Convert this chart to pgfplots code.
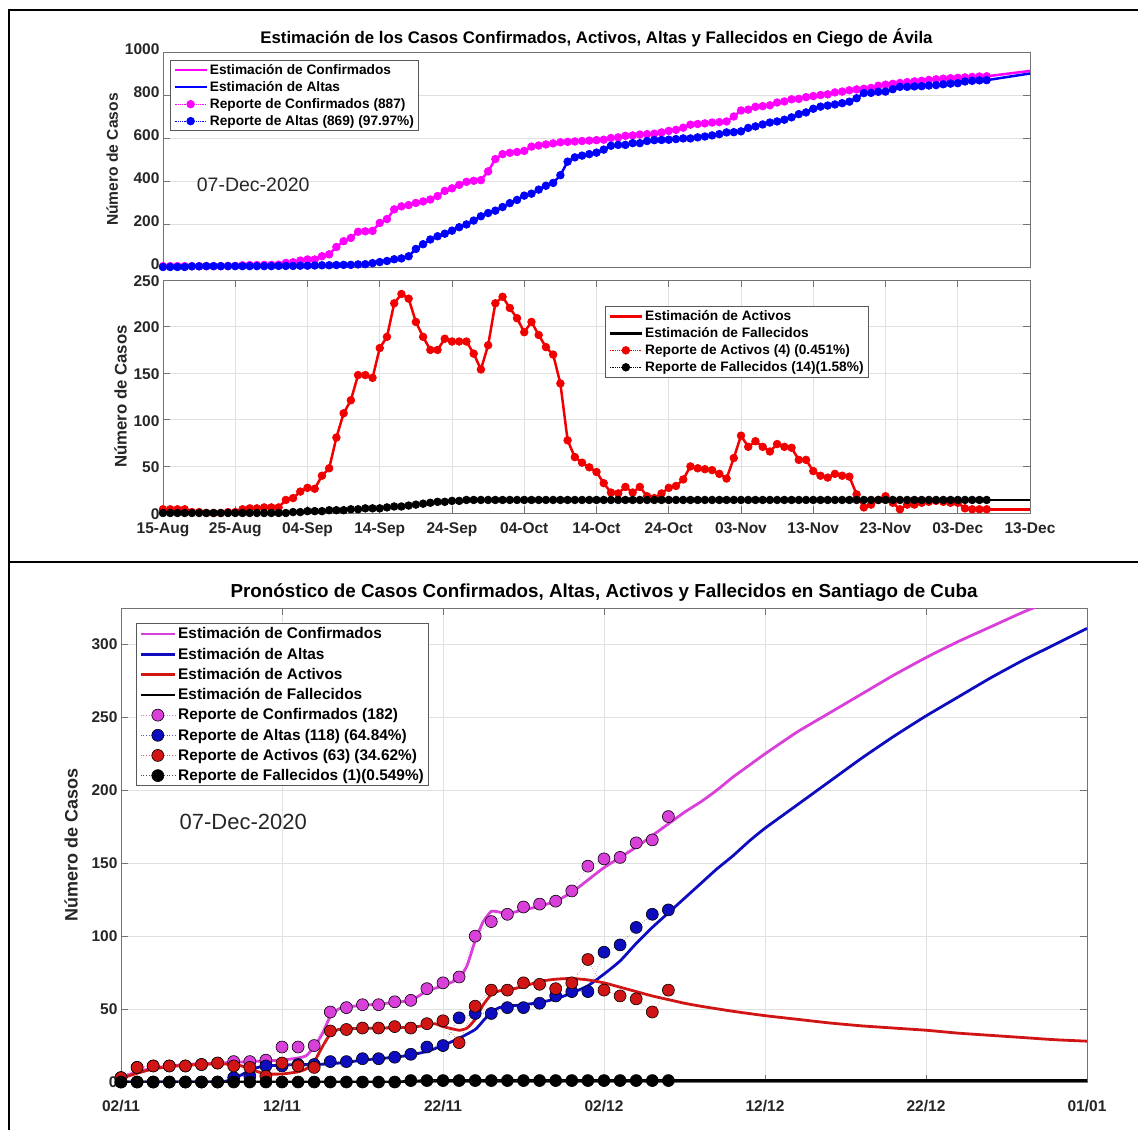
\documentclass[border=0pt]{standalone}
\usepackage{fontspec}
\setmainfont{Liberation Sans}
\usepackage{pgfplots}
\usepackage{pgfplotstable}
\pgfplotsset{compat=1.18}

\definecolor{mmag}{rgb}{1,0,1}
\definecolor{mblue}{rgb}{0,0,1}
\definecolor{mred}{rgb}{0.95,0,0}
\definecolor{bmag}{rgb}{0.85,0.25,0.85}
\definecolor{bblue}{rgb}{0.05,0.05,0.75}
\definecolor{bred}{rgb}{0.82,0.08,0.08}
\definecolor{gridc}{gray}{0.88}
\definecolor{axc}{gray}{0.45}
\definecolor{tickc}{gray}{0.15}

\pgfplotstableread{
d C A R D
0 4 0 4 0
1 4 0 4 0
2 4 0 4 0
3 4 0 4 0
4 4 3 1 0
5 4 3 1 0
6 4 4 0 0
7 4 4 0 0
8 4 4 0 0
9 5 4 1 0
10 5 4 1 0
11 8 4 4 0
12 9 4 5 0
13 9 4 5 0
14 10 4 6 0
15 10 4 6 0
16 11 5 6 0
17 19 5 14 0
18 22 5 16 1
19 30 6 23 1
20 35 6 27 2
21 35 7 26 2
22 50 8 40 2
23 59 8 48 3
24 93 9 81 3
25 120 10 107 3
26 135 10 121 4
27 164 12 148 4
28 166 13 148 5
29 168 18 145 5
30 205 23 177 5
31 223 28 189 6
32 268 36 225 7
33 282 40 235 7
34 288 50 230 8
35 298 84 205 9
36 305 106 189 10
37 314 128 175 11
38 330 143 175 12
39 354 155 187 12
40 366 169 184 13
41 382 185 184 13
42 396 198 184 14
43 401 216 171 14
44 404 236 154 14
45 445 251 180 14
46 502 262 225 14
47 525 279 232 14
48 531 297 220 14
49 535 312 209 14
50 540 332 194 14
51 560 341 205 14
52 565 360 191 14
53 570 378 178 14
54 575 391 170 14
55 580 427 139 14
56 582 490 78 14
57 584 510 60 14
58 586 518 54 14
59 588 525 49 14
60 590 532 44 14
61 592 546 32 14
62 600 564 22 14
63 603 568 21 14
64 610 568 28 14
65 612 576 22 14
66 616 576 28 14
67 618 586 18 14
68 620 590 16 14
69 626 591 21 14
70 633 592 27 14
71 638 595 29 14
72 648 598 36 14
73 662 598 50 14
74 665 603 48 14
75 668 607 47 14
76 672 612 46 14
77 674 618 42 14
78 677 626 37 14
79 700 627 59 14
80 728 631 83 14
81 732 647 71 14
82 745 654 77 14
83 748 663 71 14
84 752 672 66 14
85 765 677 74 14
86 770 685 71 14
87 780 696 70 14
88 782 711 57 14
89 790 719 57 14
90 795 736 45 14
91 800 746 40 14
92 803 751 38 14
93 812 756 42 14
94 816 762 40 14
95 822 769 39 14
96 826 785 20 14
97 829 809 6 14
98 833 810 9 14
99 843 815 14 14
100 848 816 18 14
101 852 827 11 14
102 856 838 4 14
103 860 838 9 14
104 863 840 9 14
105 866 841 11 14
106 870 844 12 14
107 873 846 13 14
108 876 850 12 14
109 878 853 11 14
110 880 855 11 14
111 882 863 5 14
112 884 866 4 14
113 886 868 4 14
114 887 869 4 14
}\ca

\pgfplotstableread{
d C A R D
0 3 0 3 0
1 10 0 10 0
2 11 0 11 0
3 11 0 11 0
4 11 0 11 0
5 12 0 12 0
6 13 0 13 0
7 14 3 11 0
8 14 4 10 0
9 15 11 4 0
10 24 11 13 0
11 24 12 11 0
12 25 12 10 0
13 48 14 35 0
14 51 14 36 0
15 53 16 37 0
16 53 16 37 0
17 55 17 38 0
18 56 19 37 1
19 64 24 40 1
20 68 25 42 1
21 72 44 27 1
22 100 47 52 1
23 110 47 63 1
24 115 51 63 1
25 120 51 68 1
26 122 54 67 1
27 124 59 64 1
28 131 62 68 1
29 148 62 84 1
30 153 89 63 1
31 154 94 59 1
32 164 106 57 1
33 166 115 48 1
34 182 118 63 1
}\sc

\pgfplotsset{
  mybase/.style={
    scale only axis,
    axis line style={axc, line width=1pt},
    tick style={axc, line width=0.8pt},
    major tick length=7pt,
    grid style={gridc, line width=0.8pt},
    tick label style={font=\bfseries\fontsize{15.5}{17}\selectfont, text=tickc},
    /pgf/number format/assume math mode=true,
    /pgf/number format/1000 sep={},
    label style={font=\bfseries\fontsize{15.6}{18}\selectfont, text=tickc},
    title style={font=\bfseries\fontsize{16.8}{19}\selectfont},
    legend cell align=left,
    legend style={draw=black!65, line width=0.9pt, fill=white, inner xsep=3pt, inner ysep=2pt,
      font=\bfseries\fontsize{13.7}{16}\selectfont, row sep=1.5pt},
    legend image code/.code={\draw[mark repeat=2,mark phase=2,#1] plot coordinates {(0pt,0pt)(16pt,0pt)(32pt,0pt)};},
  },
  rep/.style={densely dotted, line width=0.8pt, mark=*, mark size=3.8pt, mark options={solid, fill=#1, draw=#1}, #1},
  brep/.style={dotted, line width=0.6pt, mark=*, mark size=6pt, mark options={solid, fill=#1, draw=black, line width=0.6pt}, #1!70},
}

\begin{document}
\begin{tikzpicture}[x=1pt,y=1pt]
\useasboundingbox (0,0) rectangle (1138,-1130);
% frame lines
\draw[line width=1.3pt] (9,-1130) -- (9,-10) -- (1138,-10);
\draw[line width=2.6pt] (9,-10) -- (100,-10);
\draw[line width=2.6pt] (1061,-10) -- (1138,-10);
\draw[line width=1.3pt] (9,-562) -- (1138,-562);
\draw[line width=2.6pt] (9,-562) -- (53,-562);
\draw[line width=2.6pt] (1107,-562) -- (1138,-562);

% ---------------- top panel
\begin{axis}[mybase, at={(163pt,-267pt)}, anchor=south west,
  width=867pt, height=215pt,
  xmin=0, xmax=120, ymin=0, ymax=1000,
  ytick={0,200,...,1000}, xtick=\empty, ymajorgrids,
  yticklabel style={yshift=2.5pt},
  ylabel={Número de Casos},
  title={Estimación de los Casos Confirmados, Activos, Altas y Fallecidos en Ciego de Ávila},
  title style={yshift=-5pt},
  legend style={at={(0.008,0.963)}, anchor=north west}]
\addplot[mmag, line width=2.5pt] table[x=d,y=C]{\ca};
\addlegendentry{Estimación de Confirmados}
\addplot[mblue, line width=2.5pt] table[x=d,y=A]{\ca};
\addlegendentry{Estimación de Altas}
\addplot[rep=mmag] table[x=d,y=C]{\ca};
\addlegendentry{Reporte de Confirmados (887)}
\addplot[rep=mblue] table[x=d,y=A]{\ca};
\addlegendentry{Reporte de Altas (869) (97.97\%)}
\addplot[mmag, line width=2.5pt, forget plot] coordinates {(114,887) (120,912)};
\addplot[mblue, line width=2.5pt, forget plot] coordinates {(114,869) (120,900)};
\node[anchor=west, font=\fontsize{19.5}{21}\selectfont, text=black!85] at (rel axis cs:0.035,0.381) {07-Dec-2020};
\end{axis}

% ---------------- middle panel
\begin{axis}[mybase, at={(163pt,-513pt)}, anchor=south west,
  width=867pt, height=233pt,
  xmin=0, xmax=120, ymin=0, ymax=250,
  ytick={0,50,...,250}, xtick={0,10,...,120},
  xticklabels={15-Aug,25-Aug,04-Sep,14-Sep,24-Sep,04-Oct,14-Oct,24-Oct,03-Nov,13-Nov,23-Nov,03-Dec,13-Dec},
  xticklabel style={yshift=-6pt},
  yticklabel style={yshift=-1pt},
  xmajorgrids, ymajorgrids,
  ylabel={Número de Casos},
  label style={font=\bfseries\fontsize{16.8}{19}\selectfont},
  legend style={at={(0.51,0.888)}, anchor=north west}]
\addplot[mred, line width=2.5pt] table[x=d,y=R]{\ca};
\addlegendentry{Estimación de Activos}
\addplot[black, line width=2.5pt] table[x=d,y=D]{\ca};
\addlegendentry{Estimación de Fallecidos}
\addplot[rep=mred] table[x=d,y=R]{\ca};
\addlegendentry{Reporte de Activos (4) (0.451\%)}
\addplot[rep=black] table[x=d,y=D]{\ca};
\addlegendentry{Reporte de Fallecidos (14)(1.58\%)}
\addplot[mred, line width=2.5pt, forget plot] coordinates {(114,4) (120,4)};
\addplot[black, line width=2.5pt, forget plot] coordinates {(114,14) (120,14)};
\end{axis}

% ---------------- bottom panel
\begin{axis}[mybase, at={(121pt,-1082pt)}, anchor=south west,
  width=966pt, height=474pt,
  xmin=0, xmax=60, ymin=0, ymax=325,
  ytick={0,50,...,300}, xtick={0,10,...,60},
  xticklabels={02/11,12/11,22/11,02/12,12/12,22/12,01/01},
  xticklabel style={yshift=-15pt},
  xmajorgrids, ymajorgrids,
  ylabel={Número de Casos},
  label style={font=\bfseries\fontsize{18}{20}\selectfont},
  ylabel style={yshift=7pt},
  title={Pronóstico de Casos Confirmados, Altas, Activos y Fallecidos en Santiago de Cuba},
  title style={font=\bfseries\fontsize{18.8}{21}\selectfont, yshift=-3pt},
  legend style={at={(0.0155,0.968)}, anchor=north west, font=\bfseries\fontsize{15.4}{18}\selectfont, row sep=3.5pt},
  legend image code/.code={\draw[mark repeat=2,mark phase=2,#1] plot coordinates {(0pt,0pt)(17pt,0pt)(34pt,0pt)};}]
\addplot[bmag, line width=2.8pt, smooth, tension=0.3] coordinates {
(0,3)(1,7)(2,9.5)(3,11)(4,12)(5,12.5)(6,13)(7,13.5)(8,14)(9,14.5)(10,15)(11,16.5)(11.5,18)(12,24)(12.5,33)(13,45)(13.5,50)(14,51.5)(15,52.5)(16,53.5)(17,54.5)(18,56)(18.5,59)(19,62.5)(20,66)(21,71)(21.5,80)(22,97)(22.5,110)(23,117)(23.5,116.5)(24,115.5)(25,118)(26,120.5)(27,124)(28,130)(29,138.5)(30,147)(31,154)(32,161)(33,169)(34,177)(35,185)(36,192)(37,200)(38,209)(39,217)(40,225)(42,240)(44,253)(46,266)(48,279)(50,291)(52,302)(54,312)(56,322)(58,331)};
\addlegendentry{Estimación de Confirmados}
\addplot[bblue, line width=2.8pt, smooth, tension=0.3] coordinates {
(0,0)(6,0)(6.5,0.5)(7,2.5)(7.5,5)(8,8)(8.5,10)(9,11)(10,11.5)(11,12)(12,12)(13,12.5)(14,13.5)(15,15)(16,16)(17,17)(18,18.5)(19,21)(20,25)(21,30)(22,36)(22.5,42)(23,48)(23.5,51)(24,52)(25,53)(26,54.5)(27,57)(28,61)(29,66)(30,74)(31,83)(32,95)(33,106)(34,116)(35,126)(36,136)(37,146)(38,155)(39,165)(40,174)(42,190)(44,206)(46,222)(48,237)(50,251)(52,264)(54,277)(56,289)(58,300)(60,311)};
\addlegendentry{Estimación de Altas}
\addplot[bred, line width=2.8pt, smooth, tension=0.3] coordinates {
(0,2.5)(1,6)(2,9)(3,10.5)(4,11.5)(5,12)(6,12.5)(7,12)(7.5,11)(8,9)(8.5,7)(9,5.5)(10,5.5)(11,7)(11.5,9)(12,14)(12.5,24)(13,33)(13.5,36)(14,36.5)(16,37)(18,37.5)(19,39)(19.5,40)(20,38)(21,35.5)(21.5,37)(22,43)(22.5,53)(23,60)(23.5,62.5)(24,63)(25,65.5)(26,69)(27,70.5)(28,71)(29,70)(30,68)(31,65)(32,62)(33,59)(34,56.5)(35,54)(36,52)(38,48.5)(40,45.5)(42,43)(44,40.5)(46,38.5)(48,37)(50,35.5)(52,33.5)(54,32)(56,30.5)(58,29)(60,28)};
\addlegendentry{Estimación de Activos}
\addplot[black, line width=2.8pt] coordinates {(0,0)(17,0)(18,0.5)(19,1)(60,1)};
\addlegendentry{Estimación de Fallecidos}
\addplot[brep=bmag] table[x=d,y=C]{\sc};
\addlegendentry{Reporte de Confirmados (182)}
\addplot[brep=bblue] table[x=d,y=A]{\sc};
\addlegendentry{Reporte de Altas (118) (64.84\%)}
\addplot[brep=bred] table[x=d,y=R]{\sc};
\addlegendentry{Reporte de Activos (63) (34.62\%)}
\addplot[brep=black] table[x=d,y=D]{\sc};
\addlegendentry{Reporte de Fallecidos (1)(0.549\%)}
\node[anchor=west, font=\fontsize{22}{24}\selectfont, text=black!85] at (rel axis cs:0.057,0.549) {07-Dec-2020};
\end{axis}
\end{tikzpicture}
\end{document}
